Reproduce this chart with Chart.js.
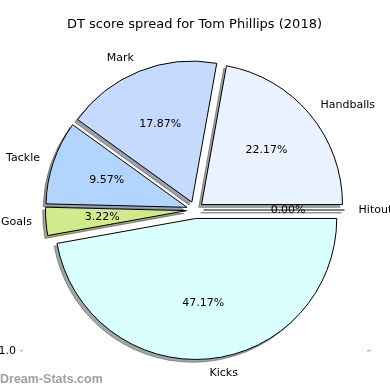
<!DOCTYPE html>
<html lang="en">
<head>
<meta charset="UTF-8">
<title>DT score spread for Tom Phillips (2018)</title>
<script src="https://cdn.jsdelivr.net/npm/chart.js"></script>
<style>
  html, body { margin: 0; padding: 0; background: #fff; }
  #wrap { width: 390px; height: 390px; }
</style>
</head>
<body>
<div id="wrap"><canvas id="chart" width="390" height="390"></canvas></div>
<script>
// slices in counter-clockwise order, starting at 3 o'clock (like the original)
const categories = ['Hitout', 'Handballs', 'Mark', 'Tackle', 'Goals', 'Kicks'];
const shares = [0.00, 22.17, 17.87, 9.57, 3.22, 47.17];
const sliceColors = ['#e4ecff', '#eaf1ff', '#c6d9ff', '#b1d5ff', '#d1eb8c', '#daffff'];

const chartTitle = 'DT score spread for Tom Phillips (2018)';
const pieRadius = 141;
const explodePx = 8.5;
const shadowShift = 2.8;
const font = "'DejaVu Sans', sans-serif";

// Chart.js goes clockwise, so feed it reversed
const labelsCW = categories.slice().reverse();
const dataCW = shares.slice().reverse();
const colorsCW = sliceColors.slice().reverse();

function shadowOf(hex) {
  const n = parseInt(hex.slice(1), 16);
  const r = Math.round(((n >> 16) & 255) * 0.3);
  const g = Math.round(((n >> 8) & 255) * 0.3);
  const b = Math.round((n & 255) * 0.3);
  return 'rgba(' + r + ',' + g + ',' + b + ',0.5)';
}

const pieExtras = {
  id: 'pieExtras',
  // push every wedge out along its middle angle
  afterUpdate(chart) {
    chart.getDatasetMeta(0).data.forEach(arc => {
      const mid = (arc.startAngle + arc.endAngle) / 2;
      arc.x += Math.cos(mid) * explodePx;
      arc.y += Math.sin(mid) * explodePx;
    });
  },
  beforeDatasetsDraw(chart) {
    const ctx = chart.ctx;
    ctx.save();
    chart.getDatasetMeta(0).data.forEach((arc, i) => {
      const c = shadowOf(colorsCW[i]);
      const sx = arc.x - shadowShift, sy = arc.y + shadowShift;
      ctx.beginPath();
      ctx.moveTo(sx, sy);
      ctx.arc(sx, sy, arc.outerRadius, arc.startAngle, arc.endAngle);
      ctx.closePath();
      ctx.fillStyle = c;
      ctx.strokeStyle = c;
      ctx.lineWidth = 1;
      ctx.fill();
      ctx.stroke();
    });
    ctx.restore();
  },
  afterDatasetsDraw(chart) {
    const ctx = chart.ctx;
    const meta = chart.getDatasetMeta(0);
    ctx.save();
    meta.data.forEach((arc, i) => {
      const mid = (arc.startAngle + arc.endAngle) / 2;
      const cs = Math.cos(mid), sn = Math.sin(mid);
      // zero-size wedge is just its edge
      if (arc.endAngle - arc.startAngle === 0) {
        ctx.beginPath();
        ctx.moveTo(arc.x, arc.y);
        ctx.lineTo(arc.x + cs * arc.outerRadius, arc.y + sn * arc.outerRadius);
        ctx.strokeStyle = '#000';
        ctx.lineWidth = 1;
        ctx.stroke();
      }
      ctx.fillStyle = '#000';
      ctx.font = '11px ' + font;
      ctx.textBaseline = 'middle';
      const lr = arc.outerRadius * 1.1;
      ctx.textAlign = cs > 0.0001 ? 'left' : (cs < -0.0001 ? 'right' : 'center');
      ctx.fillText(labelsCW[i], arc.x + cs * lr, arc.y + sn * lr);
      const pr = arc.outerRadius * 0.6;
      ctx.textAlign = 'center';
      ctx.fillText(dataCW[i].toFixed(2) + '%', arc.x + cs * pr, arc.y + sn * pr);
    });

    ctx.fillStyle = '#000';
    ctx.font = '13px ' + font;
    ctx.textAlign = 'center';
    ctx.textBaseline = 'middle';
    ctx.fillText(chartTitle, 194.5, 25);

    // leftover axis bits of the original picture
    ctx.font = '11px ' + font;
    ctx.textAlign = 'right';
    ctx.fillText('1.0', 16, 351);
    ctx.fillStyle = '#bbb';
    ctx.fillRect(20, 350, 3, 1.5);
    ctx.fillRect(367, 350, 4, 1.5);

    ctx.fillStyle = '#a0a0a0';
    ctx.font = "bold 12.5px 'Liberation Sans', sans-serif";
    ctx.textAlign = 'left';
    ctx.fillText('Dream-Stats.com', 0, 380);
    ctx.restore();
  }
};

new Chart(document.getElementById('chart'), {
  type: 'pie',
  data: {
    labels: labelsCW,
    datasets: [{
      data: dataCW,
      backgroundColor: colorsCW,
      borderColor: '#000',
      borderWidth: 1,
      hoverOffset: 0,
      radius: pieRadius
    }]
  },
  options: {
    responsive: false,
    animation: false,
    rotation: 90,
    radius: pieRadius,
    layout: { padding: { top: 30, left: 1, right: 1, bottom: 0 } },
    plugins: {
      legend: { display: false },
      title: { display: false },
      tooltip: { enabled: false }
    }
  },
  plugins: [pieExtras]
});
</script>
</body>
</html>
